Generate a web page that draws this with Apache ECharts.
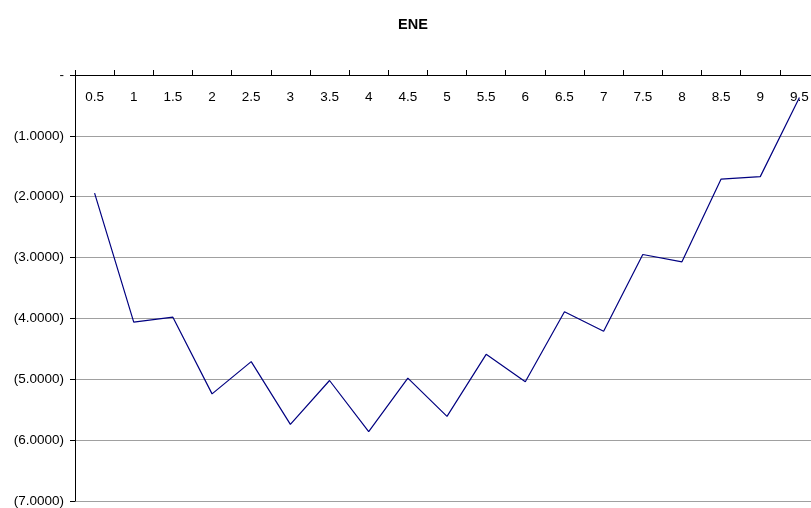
<!DOCTYPE html>
<html>
<head>
<meta charset="utf-8">
<script src="https://cdn.jsdelivr.net/npm/echarts@6/dist/echarts.min.js"></script>
<style>html,body{margin:0;padding:0;background:#fff;overflow:hidden;width:811px;height:508px}#c{width:819px;height:508px}</style>
</head>
<body>
<div id="c"></div>
<script>
const categories = ['0.5','1','1.5','2','2.5','3','3.5','4','4.5','5','5.5','6','6.5','7','7.5','8','8.5','9','9.5'];
const eneValues = [-1.94,-4.06,-3.98,-5.24,-4.71,-5.74,-5.02,-5.86,-4.98,-5.61,-4.59,-5.04,-3.89,-4.21,-2.95,-3.07,-1.71,-1.67,-0.37];
const yTicks = [0,-1,-2,-3,-4,-5,-6,-7];

const chart = echarts.init(document.getElementById('c'));
chart.setOption({
  animation: false,
  title: {
    text: 'ENE', left: 393, top: 12,
    textStyle: {fontFamily: 'Liberation Sans, Arial', fontSize: 14.5, fontWeight: 'bold', color: '#000'}
  },
  grid: {left: 75, top: 75, right: 0, bottom: 7, containLabel: false},
  xAxis: {
    type: 'category', position: 'top', data: categories, boundaryGap: true,
    axisLine: {onZero: false, lineStyle: {color: '#000', width: 1}},
    axisTick: {show: true, inside: false, length: 5, lineStyle: {color: '#000'}},
    axisLabel: {inside: true, margin: 15, color: '#000', fontFamily: 'Liberation Sans, Arial', fontSize: 13.5, interval: 0},
    splitLine: {show: false}
  },
  yAxis: {
    type: 'value', min: -7, max: 0, interval: 1,
    axisLine: {show: true, lineStyle: {color: '#000', width: 1}},
    axisTick: {show: true, length: 5, lineStyle: {color: '#000'}},
    axisLabel: {
      color: '#000', fontFamily: 'Liberation Sans, Arial', fontSize: 13.5, margin: 11,
      formatter: function (v) { return v === 0 ? '-' : '(' + Math.abs(v).toFixed(4) + ')'; }
    },
    splitLine: {show: true, lineStyle: {color: '#a0a0a0', width: 1}}
  },
  series: [{
    type: 'line', data: eneValues, symbol: 'none',
    lineStyle: {color: '#000080', width: 1.2}
  }]
});
</script>
</body>
</html>
